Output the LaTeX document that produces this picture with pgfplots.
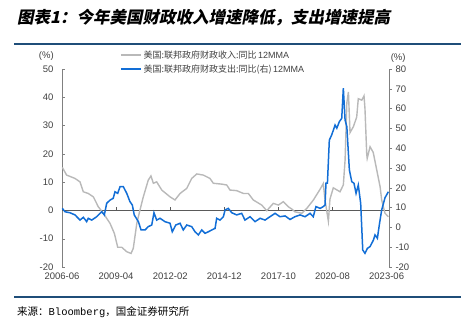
\documentclass[border=0pt]{standalone}
\usepackage{pgfplots}
\pgfplotsset{compat=1.18}
\usepackage{fontspec}
\setmainfont{Liberation Sans}
\setmonofont{Liberation Mono}
\newfontfamily\cjk{Noto Sans CJK SC}
\newfontfamily\cjktitle[FakeSlant=0.2]{Noto Sans CJK SC}
\definecolor{blueline}{RGB}{18,110,214}
\definecolor{grayline}{RGB}{185,185,185}
\definecolor{rulec}{RGB}{31,78,121}
\definecolor{txt}{RGB}{64,64,64}
\definecolor{axc}{RGB}{128,128,128}
\definecolor{zeroc}{RGB}{90,90,90}

\pgfplotstableread{
m v
0.2 15.2
2.9 12.5
8.2 11.3
11.3 10.1
13.4 6.6
16.5 6.0
19.7 4.8
22.8 1.3
26.0 -1.0
30.2 -4.6
32.9 -8.1
35.0 -13.0
37.5 -13.0
40.7 -14.6
43.4 -15.2
44.8 -13.4
47.0 -4.6
49.0 0.1
51.1 4.8
54.2 10.7
55.9 12.2
57.4 9.6
59.5 10.1
62.7 7.2
67.9 4.8
71.0 3.7
74.2 6.0
78.4 7.8
81.5 11.3
84.7 12.9
88.8 12.5
93.0 11.3
95.1 9.6
100.4 9.3
103.5 9.0
105.6 7.2
109.8 7.0
114.0 6.0
117.1 6.0
120.2 3.7
125.5 1.9
128.7 -0.1
132.8 2.5
136.0 1.9
139.1 3.1
142.2 1.3
144.4 0.5
146.4 -0.5
150.7 -1.0
153.8 0.7
158.0 3.7
162.2 7.5
164.2 9.5
165.3 3.7
167.4 -3.8
168.4 4.0
170.5 8.0
174.7 6.6
176.8 9.0
177.9 17.8
179.0 38.0
180.0 41.9
181.0 27.5
183.1 29.6
185.2 33.0
186.2 39.5
188.4 39.0
189.8 40.5
190.4 36.0
191.5 20.0
191.8 18.4
193.6 22.5
195.6 20.5
197.8 14.3
199.9 8.4
200.9 3.7
203.0 -1.0
205.1 -2.2
}\income

\pgfplotstableread{
m v
0.2 9.6
1.9 7.9
5.0 7.4
8.2 6.3
11.3 3.7
13.4 5.1
15.5 2.9
16.5 4.6
18.7 3.7
21.8 5.4
23.9 7.1
25.0 7.9
26.6 6.3
28.1 12.2
30.2 13.8
32.2 14.7
33.3 18.0
35.0 17.2
36.5 20.6
38.5 20.6
40.7 17.2
42.7 13.0
44.2 11.3
45.4 6.3
48.0 2.9
49.7 -1.3
52.2 -1.3
54.2 0.4
56.4 1.2
57.8 7.4
59.5 3.7
61.6 4.6
64.7 2.9
67.9 2.1
69.3 -2.2
71.5 1.2
74.2 2.1
76.2 -1.3
78.4 1.2
81.5 0.4
83.6 -2.2
85.7 -3.8
87.8 -1.3
89.9 -3.0
92.0 -2.2
94.1 -1.3
96.2 -0.5
97.2 4.6
99.3 3.7
101.4 5.4
102.5 8.8
104.5 9.6
106.7 7.4
109.8 6.3
112.9 7.1
115.0 3.7
118.2 5.4
121.3 2.9
124.5 4.6
127.6 3.7
130.7 5.4
133.9 7.1
137.0 5.4
140.2 5.8
143.3 4.0
146.4 5.4
149.6 6.3
152.7 5.4
155.9 7.1
157.9 5.4
159.6 10.5
162.2 9.6
164.2 10.5
165.3 11.3
165.9 22.3
166.8 22.3
168.0 44.1
169.5 46.7
171.6 51.7
172.7 50.1
174.3 53.4
175.8 55.1
176.8 70.3
177.9 54.2
179.0 50.9
180.6 29.0
182.1 23.1
183.5 22.3
184.8 17.2
186.2 21.4
187.7 12.2
189.0 -11.4
190.4 -13.1
191.9 -10.6
193.6 -9.7
195.7 -6.4
196.7 -3.8
198.2 -5.5
199.4 1.2
200.9 8.8
203.0 15.0
205.1 18.0
}\spend

\pgfplotsset{
  base/.style={
    at={(62pt,58pt)}, anchor=south west,
    width=327pt, height=198pt, scale only axis,
    xmin=0, xmax=205.5,
    tick label style={font=\fontsize{9.5}{10}\selectfont, text=txt},
    /pgf/number format/assume math mode=true,
    every tick/.style={axc},
  }
}

\begin{document}
\begin{tikzpicture}
\useasboundingbox (0pt,0pt) rectangle (461pt,325pt);
\node[anchor=west, inner sep=0, font=\cjktitle\bfseries\fontsize{16.5}{17}\selectfont] at (17pt,307pt) {图表1：今年美国财政收入增速降低，支出增速提高};
\draw[rulec, line width=1.2pt] (14pt,281pt) -- (461pt,281pt);
\draw[rulec, line width=1.2pt] (14pt,28pt) -- (461pt,28pt);
\node[anchor=west, inner sep=0, font=\cjk\fontsize{10.5}{11}\selectfont] at (17pt,13pt) {来源：\texttt{Bloomberg}，国金证券研究所};

\begin{axis}[base,
  ymin=-20, ymax=50, ytick={-20,-10,...,50},
  axis y line*=left, axis x line*=bottom,
  x axis line style={draw=none},
  y axis line style={axc, line width=0.8pt},
  ytick align=inside, major tick length=3pt,
  xtick={0,34,68,102,136,170,204},
  xticklabels={2006-06,2009-04,2012-02,2014-12,2017-10,2020-08,2023-06},
  xtick style={draw=none},
  xticklabel style={yshift=-2pt},
  yticklabel style={xshift=-5pt},
  clip=false,
]
\draw[zeroc, line width=0.8pt] (axis cs:0,0) -- (axis cs:205.5,0);
\draw[zeroc, line width=0.6pt] (axis cs:34,0) -- ++(0pt,3pt);
\draw[zeroc, line width=0.6pt] (axis cs:68,0) -- ++(0pt,3pt);
\draw[zeroc, line width=0.6pt] (axis cs:102,0) -- ++(0pt,3pt);
\draw[zeroc, line width=0.6pt] (axis cs:136,0) -- ++(0pt,3pt);
\draw[zeroc, line width=0.6pt] (axis cs:170,0) -- ++(0pt,3pt);
\addplot[grayline, line width=1.4pt, no markers] table[x=m,y=v] {\income};
\node[font=\fontsize{9.5}{10}\selectfont, text=txt] at (rel axis cs:-0.048,1.066) {(\%)};
\end{axis}

\begin{axis}[base,
  ymin=-20, ymax=80, ytick={-20,-10,...,80},
  axis y line*=right, axis x line=none,
  y axis line style={axc, line width=0.8pt},
  ytick align=outside, major tick length=3pt,
  clip=false,
  legend style={draw=none, fill=none, at={(rel axis cs:0.177,1.105)}, anchor=north west,
    font=\fontsize{9}{10}\selectfont, text=txt, row sep=1pt, inner sep=0pt,
    /tikz/every even column/.append style={column sep=3pt}},
  legend cell align=left,
  legend image code/.code={\draw[#1] (0pt,0pt) -- (20pt,0pt);},
]
\addlegendimage{grayline, line width=1.5pt}
\addlegendentry{{\cjk 美国:联邦政府财政收入:同比}\,12MMA}
\addplot[blueline, line width=1.5pt, no markers] table[x=m,y=v] {\spend};
\addlegendentry{{\cjk 美国:联邦政府财政支出:同比(右)}\,12MMA}
\node[font=\fontsize{9.5}{10}\selectfont, text=txt] at (rel axis cs:1.028,1.056) {(\%)};
\end{axis}
\end{tikzpicture}
\end{document}
